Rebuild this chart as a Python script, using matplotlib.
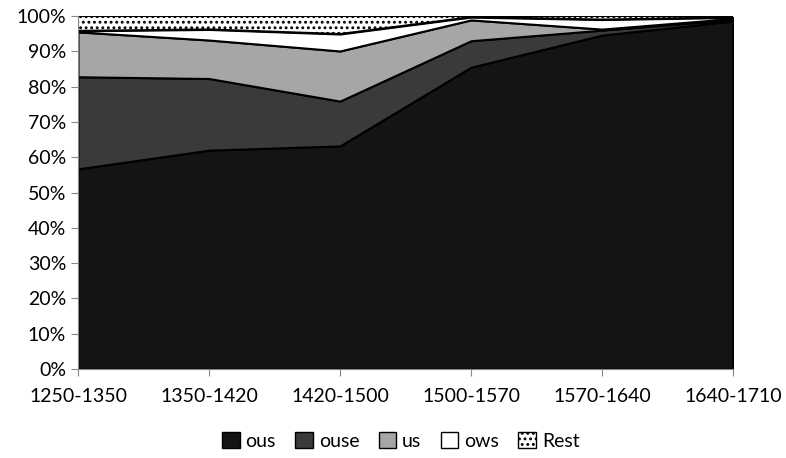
import matplotlib.pyplot as plt
import matplotlib.patches as mpatches
import numpy as np

plt.rcParams['font.family'] = ['Lato', 'DejaVu Sans']
plt.rcParams['hatch.linewidth'] = 1.3

periods = ["1250-1350", "1350-1420", "1420-1500", "1500-1570", "1570-1640", "1640-1710"]
ous = [56.7, 62.0, 63.2, 85.5, 94.6, 98.6]
ouse = [26.1, 20.3, 12.7, 7.5, 1.4, 0.4]
us = [12.7, 10.9, 14.2, 5.9, 0.3, 0.3]
ows = [0.3, 3.0, 4.8, 0.8, 2.7, 0.3]
rest = [4.2, 3.8, 5.1, 0.3, 1.0, 0.4]

names = ["ous", "ouse", "us", "ows", "Rest"]
colors = ["#141414", "#3a3a3a", "#a6a6a6", "white", "white"]
hatches = [None, None, None, None, "..."]

fig = plt.figure(figsize=(7.86, 4.58), dpi=100)
ax = fig.add_axes([0.0992, 0.1943, 0.8334, 0.7707])

x = np.arange(len(periods))
series = [ous, ouse, us, ows, rest]
base = np.zeros(len(periods))
for vals, c, h in zip(series, colors, hatches):
    top = base + np.array(vals)
    ax.fill_between(x, base, top, facecolor=c, edgecolor="black", hatch=h, linewidth=1.5)
    base = top

ax.set_xlim(0, len(periods) - 1)
ax.set_ylim(0, 100)
ax.set_yticks(range(0, 101, 10))
ax.set_yticklabels([f"{v}%" for v in range(0, 101, 10)], fontsize=14)
ax.set_xticks(x)
ax.set_xticklabels(periods, fontsize=14)
ax.tick_params(axis="both", direction="out", length=5, color="#888888")
ax.tick_params(axis="x", pad=9)
for s in ["top", "right"]:
    ax.spines[s].set_visible(False)
for s in ["left", "bottom"]:
    ax.spines[s].set_color("#888888")

handles = [mpatches.Patch(facecolor=c, edgecolor="black", hatch=h, label=n)
           for n, c, h in zip(names, colors, hatches)]
fig.legend(handles=handles, loc="center", bbox_to_anchor=(0.51, 0.037), ncol=5,
           frameon=False, fontsize=14, handlelength=0.9, handleheight=0.9,
           handletextpad=0.3, columnspacing=1.0)

fig.savefig("out.png", dpi=100)
